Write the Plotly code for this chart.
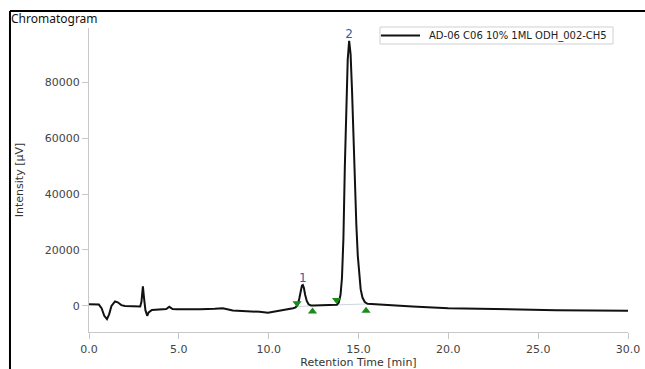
import plotly.graph_objects as go

# Retention time (min) and intensity (µV)
time_min = [0.00, 0.55, 0.70, 0.85, 1.00, 1.12, 1.25, 1.45, 1.60, 1.80, 2.00, 2.40, 2.85,
            2.92, 3.00, 3.06, 3.14, 3.24, 3.32, 3.50, 3.80, 4.30, 4.47, 4.56, 4.65, 4.90,
            5.50, 6.20, 7.00, 7.45, 8.00, 8.90, 9.50, 9.96, 10.30, 10.60, 11.00, 11.36,
            11.50, 11.62, 11.70, 11.78, 11.85, 11.90, 11.96, 12.03, 12.12, 12.22, 12.35,
            12.50, 13.00, 13.50, 13.80, 13.90, 14.00, 14.08, 14.16, 14.24, 14.32, 14.40,
            14.48, 14.56, 14.64, 14.72, 14.80, 14.88, 14.96, 15.04, 15.12, 15.22, 15.35,
            15.50, 16.50, 18.00, 20.00, 22.00, 24.00, 26.00, 28.00, 30.00]
intensity = [600, 500, -800, -3500, -4700, -3000, 0, 1600, 1300, 300, 0, -100, -200,
             1500, 7000, 3000, -1500, -3500, -2300, -1400, -1300, -1100, -300, -800, -1100, -1200,
             -1300, -1200, -1000, -800, -1600, -1800, -2100, -2400, -2000, -1700, -1400, -800,
             -500, 500, 2500, 5500, 7300, 7500, 6500, 4000, 1800, 600, 200,
             150, 200, 300, 400, 1200, 4000, 10000, 24000, 50000, 72000, 88000,
             94700, 90000, 77000, 60000, 43000, 29000, 18000, 10500, 6000, 3000, 1400,
             800, 300, -200, -800, -1100, -1400, -1500, -1600, -1700]

series_name = "AD-06 C06 10% 1ML ODH_002-CH5"

# Detected peaks
peak_labels = ["1", "2"]
peak_times = [11.90, 14.48]
peak_heights = [7500, 94700]

# Peak start / end markers
peak_start_t = [11.58, 13.78]
peak_start_y = [-300, 400]
peak_end_t = [12.44, 15.42]
peak_end_y = [150, 700]
marker_start_y = [1000, 2100]
marker_end_y = [-2000, -1700]

x_ticks = [0, 5, 10, 15, 20, 25, 30]
x_tick_text = ["0.0", "5.0", "10.0", "15.0", "20.0", "25.0", "30.0"]
y_ticks = [0, 20000, 40000, 60000, 80000]
y_tick_text = ["0", "20000", "40000", "60000", "80000"]

LINE_COLOR = "#111111"

fig = go.Figure()

# integration baselines
for i in range(len(peak_start_t)):
    fig.add_trace(go.Scatter(x=[peak_start_t[i], peak_end_t[i]], y=[peak_start_y[i], peak_end_y[i]],
                             mode="lines", line=dict(color="#cfd6dc", width=1),
                             showlegend=False, hoverinfo="skip"))

fig.add_trace(go.Scatter(x=time_min, y=intensity, mode="lines", name=series_name,
                         line=dict(color=LINE_COLOR, width=2), showlegend=False))

fig.add_trace(go.Scatter(x=peak_start_t, y=marker_start_y, mode="markers",
                         marker=dict(symbol="triangle-down", color="#1a8a1a", size=8),
                         showlegend=False, hoverinfo="skip"))
fig.add_trace(go.Scatter(x=peak_end_t, y=marker_end_y, mode="markers",
                         marker=dict(symbol="triangle-up", color="#1a8a1a", size=8),
                         showlegend=False, hoverinfo="skip"))
fig.add_trace(go.Scatter(x=peak_times, y=peak_heights, mode="text", text=peak_labels,
                         textposition="top center",
                         textfont=dict(family="DejaVu Sans", size=12, color="#2a64a8"),
                         showlegend=False, hoverinfo="skip"))

axis_font = dict(family="DejaVu Sans", size=11, color="#444444")
title_font = dict(family="DejaVu Sans", size=11, color="#333333")

fig.update_layout(
    width=645, height=369,
    margin=dict(l=89, r=17, t=28, b=37),
    paper_bgcolor="white", plot_bgcolor="white",
    showlegend=False,
    title=dict(text="Chromatogram", x=11 / 645, xanchor="left", xref="container",
               y=1 - 19 / 369, yanchor="middle", yref="container",
               font=dict(family="Noto Sans", size=12, color="#111111")),
    xaxis=dict(range=[0, 30], tickvals=x_ticks, ticktext=x_tick_text, automargin=False,
               showgrid=False, zeroline=False, showline=True, linecolor="#c8c8c8",
               linewidth=1, ticks="outside", ticklen=6, tickcolor="#c8c8c8",
               tickfont=axis_font, ticklabelstandoff=1,
               title=dict(text="Retention Time [min]", standoff=2, font=title_font)),
    yaxis=dict(range=[-9300, 99300], tickvals=y_ticks, ticktext=y_tick_text, automargin=False,
               showgrid=False, zeroline=False, showline=True, linecolor="#c8c8c8",
               linewidth=1, ticks="outside", ticklen=6, tickcolor="#c8c8c8",
               tickfont=axis_font,
               title=dict(text="Intensity [µV]", standoff=18, font=title_font)),
    shapes=[
        # outer frame
        dict(type="line", xref="paper", yref="paper", x0=-0.1466, x1=1.04, y0=1.0559, y1=1.0559,
             line=dict(color="black", width=2)),
        dict(type="line", xref="paper", yref="paper", x0=-0.1466, x1=-0.1466, y0=1.0559, y1=-0.13,
             line=dict(color="black", width=2)),
        # legend box and sample line
        dict(type="rect", xref="paper", yref="paper", x0=0.5399, x1=0.9722, y0=0.9474, y1=1.0033,
             line=dict(color="#d0d0d0", width=1), fillcolor="white", layer="above"),
        dict(type="line", xref="paper", yref="paper", x0=0.5417, x1=0.6141, y0=0.9753, y1=0.9753,
             line=dict(color=LINE_COLOR, width=2), layer="above"),
    ],
    annotations=[
        dict(text=series_name, xref="paper", yref="paper", x=0.6271, y=0.9753,
             xanchor="left", yanchor="middle", showarrow=False,
             font=dict(family="DejaVu Sans", size=10, color="#222222")),
    ],
)

fig.write_html("out.html")
